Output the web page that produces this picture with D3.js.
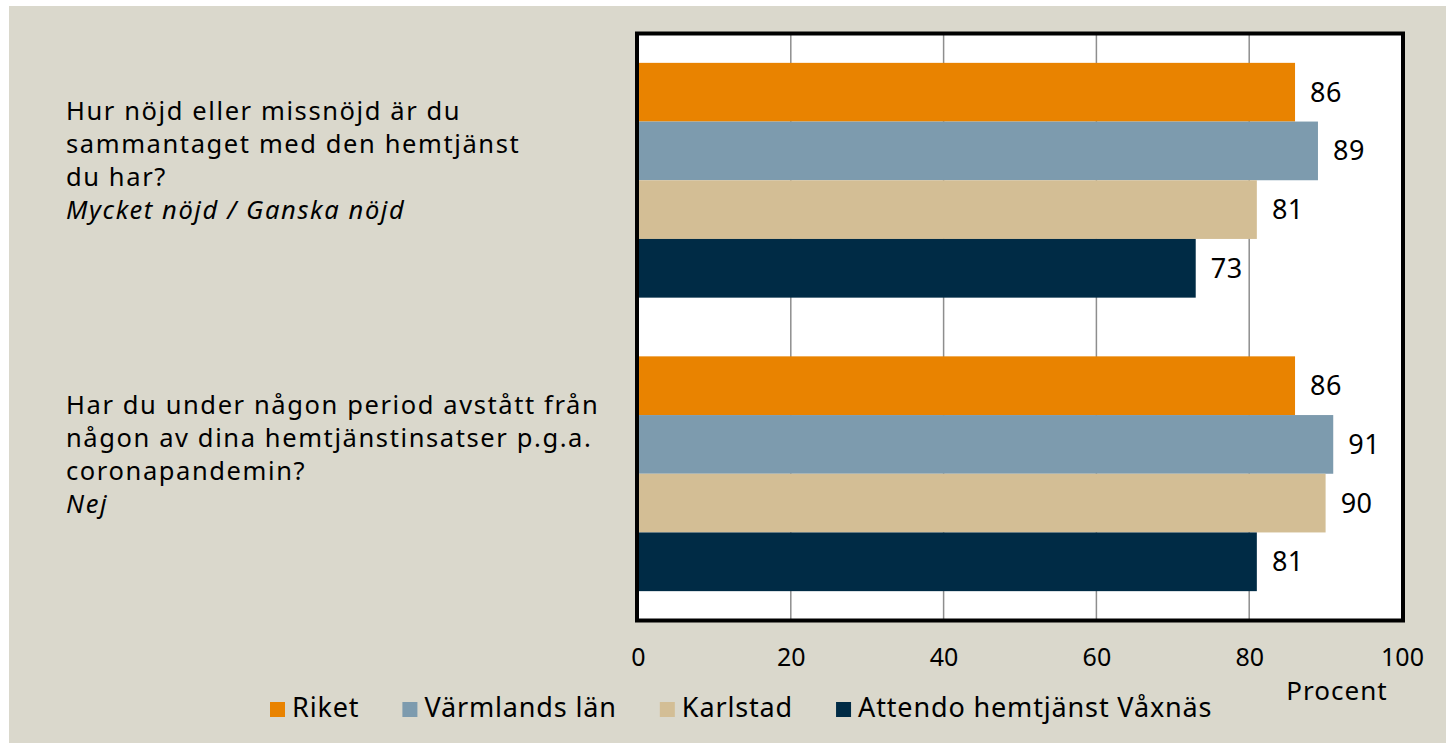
<!DOCTYPE html>
<html>
<head>
<meta charset="utf-8">
<script src="https://cdn.jsdelivr.net/npm/d3@7"></script>
<style>
  html, body { margin: 0; padding: 0; background: #ffffff; }
  svg { display: block; }
  text { font-family: "Noto Sans", "Open Sans", sans-serif; fill: #000; }
</style>
</head>
<body>
<svg id="chart" width="1446" height="743"></svg>
<script>
// ---- data ----
const questions = [
  ["Hur nöjd eller missnöjd är du", "sammantaget med den hemtjänst", "du har?", "Mycket nöjd / Ganska nöjd"],
  ["Har du under någon period avstått från", "någon av dina hemtjänstinsatser p.g.a.", "coronapandemin?", "Nej"]
];
const questionKeys = ["q1", "q2"];
const seriesNames = ["Riket", "Värmlands län", "Karlstad", "Attendo hemtjänst Våxnäs"];
const riket    = [86, 86];
const varmland = [89, 91];
const karlstad = [81, 90];
const attendo  = [73, 81];
const seriesValues = [riket, varmland, karlstad, attendo];
const xTicks = [0, 20, 40, 60, 80, 100];
const xTitle = "Procent";

// ---- styles ----
const colors = ["#E98300", "#7D9BAE", "#D3BE95", "#002B45"];
const W = 1446, H = 743;
const svg = d3.select("#chart");

svg.append("rect").attr("x", 0).attr("y", 0).attr("width", W).attr("height", H).attr("fill", "#ffffff");
svg.append("rect").attr("x", 9).attr("y", 6).attr("width", W - 9).attr("height", H - 6).attr("fill", "#DAD8CC");

const plot = { left: 637, right: 1403, top: 33.5, bottom: 620.5 };
const x = d3.scaleLinear().domain([0, 100]).range([638, 1402]);
const y0 = d3.scaleBand().domain(questionKeys).range([plot.top, plot.bottom]).paddingInner(0).paddingOuter(0);
const y1 = d3.scaleBand().domain(d3.range(seriesNames.length)).range([0, y0.bandwidth()]).paddingInner(0).paddingOuter(0.5);

// plot background
svg.append("rect")
  .attr("x", plot.left).attr("y", plot.top)
  .attr("width", plot.right - plot.left).attr("height", plot.bottom - plot.top)
  .attr("fill", "#ffffff");

// gridlines
svg.append("g").selectAll("line")
  .data(xTicks.filter(t => t > 0 && t < 100))
  .join("line")
  .attr("x1", d => x(d)).attr("x2", d => x(d))
  .attr("y1", plot.top).attr("y2", plot.bottom)
  .attr("stroke", "#8E8E8E").attr("stroke-width", 1.5);

// bars
const rows = [];
questionKeys.forEach((q, qi) => {
  seriesValues.forEach((vals, si) => rows.push({ q, qi, si, v: vals[qi] }));
});

svg.append("g").selectAll("rect")
  .data(rows)
  .join("rect")
  .attr("x", x(0) - 1)
  .attr("y", d => y0(d.q) + y1(d.si))
  .attr("width", d => x(d.v) - x(0) + 1)
  .attr("height", y1.bandwidth())
  .attr("fill", d => colors[d.si]);

// value labels
svg.append("g").selectAll("text")
  .data(rows)
  .join("text")
  .attr("x", d => x(d.v) + 31)
  .attr("y", d => y0(d.q) + y1(d.si) + y1.bandwidth() / 2 + 9.5)
  .attr("text-anchor", "middle")
  .attr("font-size", 27)
  .attr("letter-spacing", 0.5)
  .text(d => d.v);

// frame
svg.append("rect")
  .attr("x", plot.left).attr("y", plot.top)
  .attr("width", plot.right - plot.left).attr("height", plot.bottom - plot.top)
  .attr("fill", "none").attr("stroke", "#000").attr("stroke-width", 4);

// x axis labels
const xAxis = d3.axisBottom(x).tickValues(xTicks).tickSize(0).tickPadding(0).tickFormat(d3.format("d"));
const gx = svg.append("g").attr("transform", "translate(0,645)").call(xAxis);
gx.select(".domain").remove();
gx.selectAll("text")
  .attr("font-size", 25)
  .attr("font-family", "Noto Sans")
  .attr("fill", "#000")
  .attr("dy", "0.85em");

svg.append("text")
  .attr("x", 1337).attr("y", 700)
  .attr("text-anchor", "middle")
  .attr("font-size", 26)
  .attr("letter-spacing", 1)
  .text(xTitle);

// question labels
questionKeys.forEach((q, qi) => {
  const cy = y0(q) + y0.bandwidth() / 2;
  const t = svg.append("text")
    .attr("x", 66).attr("y", cy - 60)
    .attr("font-size", 25.5)
    .attr("letter-spacing", 1.6);
  questions[qi].forEach((line, li) => {
    t.append("tspan")
      .attr("x", 66)
      .attr("y", cy - 60 + li * 33)
      .attr("font-style", li === questions[qi].length - 1 ? "italic" : "normal")
      .text(line);
  });
});

// legend
const legend = svg.append("g");
let lx = 270;
seriesNames.forEach((name, i) => {
  legend.append("rect")
    .attr("x", lx).attr("y", 702)
    .attr("width", 15).attr("height", 15)
    .attr("fill", colors[i]);
  const t = legend.append("text")
    .attr("x", lx + 22).attr("y", 717)
    .attr("font-size", 27)
    .attr("letter-spacing", 0.85)
    .text(name);
  lx = lx + 22 + t.node().getComputedTextLength() + 43;
});
</script>
</body>
</html>
